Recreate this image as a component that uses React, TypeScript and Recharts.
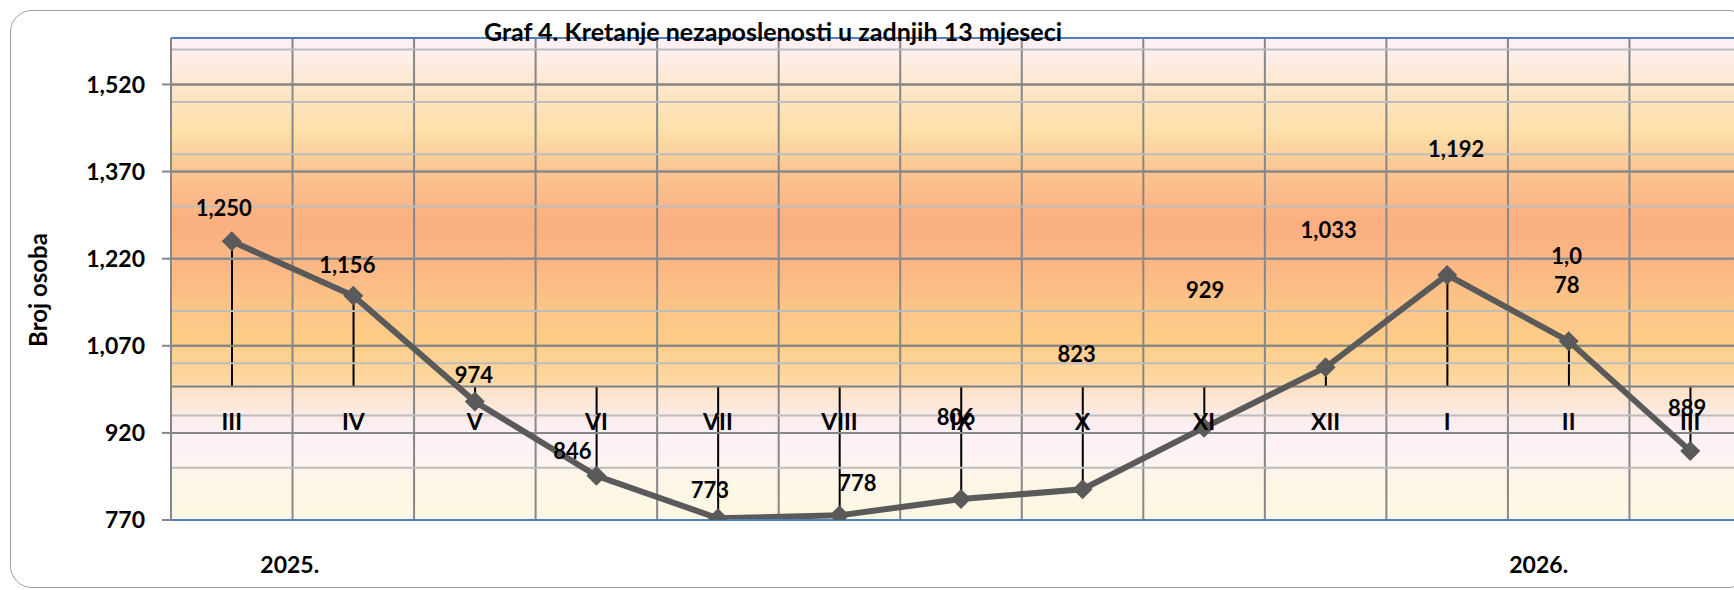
import React from 'react';
import {
  ComposedChart,
  Line,
  Bar,
  XAxis,
  YAxis,
  CartesianGrid,
  ReferenceLine,
  LabelList,
} from 'recharts';

// months shown on the category axis (last 13 months)
const months = ['III', 'IV', 'V', 'VI', 'VII', 'VIII', 'IX', 'X', 'XI', 'XII', 'I', 'II', 'III'];
// number of unemployed persons
const unemployed = [1250, 1156, 974, 846, 773, 778, 806, 823, 929, 1033, 1192, 1078, 889];
// value where the category axis crosses
const axisCross = 1000;
const yTicks = [770, 920, 1070, 1220, 1370, 1520];
const yDomain = [770, 1600];
// secondary (lighter) gridlines
const minorTicks = [860, 950, 1040, 1130, 1220, 1310, 1400, 1490, 1580];
// year captions below the axis: [category index, text]
const yearLabels: [number, string][] = [
  [0, '2025.'],
  [11, '2026.'],
];

// hand-placed data label nudges, like the Excel original
const labelNudge = [
  [-8, -34], [-6, -32], [-1, -28], [-24, -26], [-8, -29], [18, -33], [-5, -83],
  [-6, -136], [1, -139], [3, -138], [9, -127], [-2, -72], [-3, -44],
];
const yearNudge: Record<number, number> = { 0: 58, 11: -30 };
const wrappedLabels = [11];

const chartData = months.map((month, i) => ({
  month,
  value: unemployed[i],
  base: axisCross,
  drop: [Math.min(axisCross, unemployed[i]), Math.max(axisCross, unemployed[i])],
}));

const FONT = 'Lato, "Open Sans", sans-serif';
const fmt = (v: number) => v.toLocaleString('en-US');

const Diamond = (props: any) => {
  const { cx, cy } = props;
  if (cx == null || cy == null) return null;
  const r = 10;
  return (
    <polygon
      points={`${cx},${cy - r} ${cx + r},${cy} ${cx},${cy + r} ${cx - r},${cy}`}
      fill="#5a5a5a"
    />
  );
};

const ValueLabel = (props: any) => {
  const { x, y, value, index } = props;
  const [dx, dy] = labelNudge[index] || [0, -30];
  const text = fmt(value);
  const lines = wrappedLabels.includes(index) ? [text.slice(0, 3), text.slice(3)] : [text];
  const lh = 29;
  const top = y + dy - ((lines.length - 1) * lh) / 2;
  return (
    <text
      textAnchor="middle"
      dominantBaseline="central"
      fontFamily={FONT}
      fontWeight={700}
      fontSize={22}
      fill="#000"
    >
      {lines.map((l, k) => (
        <tspan key={k} x={x + dx} y={top + k * lh}>
          {l}
        </tspan>
      ))}
    </text>
  );
};

const MonthLabel = (props: any) => {
  const { x, y, value } = props;
  return (
    <text
      x={x}
      y={y + 35}
      textAnchor="middle"
      dominantBaseline="central"
      fontFamily={FONT}
      fontWeight={700}
      fontSize={23}
      fill="#000"
    >
      {value}
    </text>
  );
};

const YearTick = (props: any) => {
  const { x, y, index } = props;
  const hit = yearLabels.find(([i]) => i === index);
  if (!hit) return null;
  return (
    <text
      x={x + (yearNudge[index] || 0)}
      y={y + 42}
      textAnchor="middle"
      dominantBaseline="central"
      fontFamily={FONT}
      fontWeight={700}
      fontSize={23}
      fill="#000"
    >
      {hit[1]}
    </text>
  );
};

export default function App() {
  return (
    <div
      style={{
        position: 'fixed',
        left: 0,
        top: 0,
        width: 1734,
        height: 590,
        overflow: 'hidden',
        background: '#fff',
        fontFamily: FONT,
      }}
    >
      <div
        style={{
          position: 'absolute',
          left: 10,
          top: 10,
          width: 1740,
          height: 578,
          border: '1.5px solid #a0a0a0',
          borderRadius: 22,
          boxSizing: 'border-box',
        }}
      />
      <div style={{ position: 'absolute', left: 0, top: 0 }}>
        <ComposedChart
          width={1760}
          height={590}
          data={chartData}
          margin={{ top: 38, right: 9, bottom: 0, left: 0 }}
        >
          <defs>
            <linearGradient id="sunset" x1="0" y1="0" x2="0" y2="1">
              <stop offset="0%" stopColor="#fdf1f7" />
              <stop offset="4%" stopColor="#fdeee8" />
              <stop offset="13%" stopColor="#fee3bf" />
              <stop offset="19%" stopColor="#fde0aa" />
              <stop offset="27%" stopColor="#fcc794" />
              <stop offset="38%" stopColor="#fbaf80" />
              <stop offset="46%" stopColor="#fbb584" />
              <stop offset="55%" stopColor="#fcc386" />
              <stop offset="63%" stopColor="#fdcd88" />
              <stop offset="71.5%" stopColor="#fdd8a2" />
              <stop offset="72.5%" stopColor="#fde1c4" />
              <stop offset="81%" stopColor="#fcf0f6" />
              <stop offset="88%" stopColor="#fdf3f2" />
              <stop offset="91%" stopColor="#fdf6e6" />
              <stop offset="100%" stopColor="#fdf7e3" />
            </linearGradient>
          </defs>
          <CartesianGrid
            fill="url(#sunset)"
            fillOpacity={1}
            stroke="#878787"
            strokeWidth={2}
            verticalCoordinatesGenerator={({ offset }: any) =>
              months.map((_, i) => offset.left + (offset.width / months.length) * i)
            }
          />
          {minorTicks.map((t) => (
            <ReferenceLine key={t} y={t} stroke="#bdbdbd" strokeWidth={2} />
          ))}
          {yTicks.map((t) => (
            <ReferenceLine key={'m' + t} y={t} stroke="#878787" strokeWidth={2} />
          ))}
          <ReferenceLine y={yDomain[1]} stroke="#4f81bd" strokeWidth={2} />
          <ReferenceLine y={axisCross} stroke="#7f7f7f" strokeWidth={2} />
          <XAxis
            dataKey="month"
            height={70}
            interval={0}
            axisLine={{ stroke: '#4f81bd', strokeWidth: 2 }}
            tickLine={false}
            tickSize={0}
            tick={<YearTick />}
          />
          <YAxis
            width={171}
            domain={yDomain}
            ticks={yTicks}
            interval={0}
            allowDataOverflow
            axisLine={{ stroke: '#878787', strokeWidth: 2 }}
            tickLine={{ stroke: '#878787', strokeWidth: 2 }}
            tickSize={9}
            tickMargin={17}
            tickFormatter={fmt}
            tick={{ fill: '#000', fontFamily: FONT, fontWeight: 700, fontSize: 23 }}
          />
          <Line
            dataKey="base"
            stroke="none"
            dot={false}
            activeDot={false}
            isAnimationActive={false}
          >
            <LabelList dataKey="month" content={<MonthLabel />} />
          </Line>
          <Line
            dataKey="value"
            stroke="#5a5a5a"
            strokeWidth={6}
            dot={<Diamond />}
            activeDot={false}
            isAnimationActive={false}
          >
            <LabelList dataKey="value" content={<ValueLabel />} />
          </Line>
          <Bar dataKey="drop" barSize={2} fill="#000" isAnimationActive={false} />
        </ComposedChart>
      </div>
      <div
        style={{
          position: 'absolute',
          left: 773,
          top: 31,
          transform: 'translate(-50%, -50%)',
          whiteSpace: 'nowrap',
          fontWeight: 700,
          fontSize: 25,
          color: '#000',
        }}
      >
        Graf 4. Kretanje nezaposlenosti u zadnjih 13 mjeseci
      </div>
      <div
        style={{
          position: 'absolute',
          left: 37,
          top: 290,
          transform: 'translate(-50%, -50%) rotate(-90deg)',
          whiteSpace: 'nowrap',
          fontWeight: 700,
          fontSize: 24,
          color: '#000',
        }}
      >
        Broj osoba
      </div>
    </div>
  );
}
